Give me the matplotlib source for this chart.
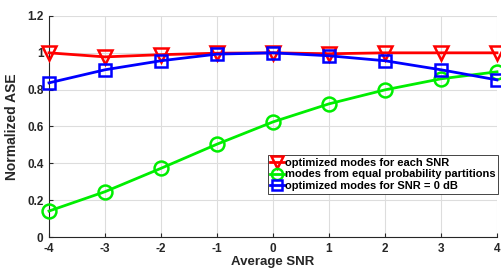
import matplotlib
matplotlib.use("Agg")
import matplotlib.pyplot as plt

plt.rcParams['font.family'] = ['Liberation Sans', 'DejaVu Sans']
plt.rcParams['font.weight'] = 'bold'
plt.rcParams['axes.unicode_minus'] = False

snr = [-4, -3, -2, -1, 0, 1, 2, 3, 4]
ase_each_snr = [1.0, 0.978, 0.99, 0.998, 1.0, 0.995, 1.0, 1.0, 1.0]
ase_equal_prob = [0.141, 0.246, 0.373, 0.504, 0.625, 0.723, 0.799, 0.859, 0.897]
ase_snr0 = [0.837, 0.908, 0.957, 0.993, 1.0, 0.984, 0.957, 0.908, 0.853]

labels = ['optimized modes for each SNR',
          'modes from equal probability partitions',
          'optimized modes for SNR = 0 dB']

fig = plt.figure(figsize=(5.02, 2.69), dpi=100)
ax = fig.add_axes([49/502, 32/269, 448/502, 221/269])

ax.plot(snr, ase_each_snr, color='#ff0000', lw=2, marker='v', ms=10,
        mfc='none', mew=1.8, label=labels[0], clip_on=False, zorder=3)
ax.plot(snr, ase_equal_prob, color='#00ee00', lw=2, marker='o', ms=10,
        mfc='none', mew=1.8, label=labels[1], clip_on=False, zorder=3)
ax.plot(snr, ase_snr0, color='#0000ff', lw=2, marker='s', ms=8.5,
        mfc='none', mew=1.8, label=labels[2], clip_on=False, zorder=4)

ax.set_xlim(-4, 4)
ax.set_ylim(0, 1.2)
ax.set_xticks(snr)
ax.set_yticks([0, 0.2, 0.4, 0.6, 0.8, 1.0, 1.2])
ax.set_yticklabels(['0', '0.2', '0.4', '0.6', '0.8', '1', '1.2'])
ax.grid(True, color='#dddddd', lw=0.8)
ax.set_axisbelow(True)
ax.tick_params(direction='in', length=3, labelsize=8.5, colors='#262626', pad=4)
for s in ['top', 'right']:
    ax.spines[s].set_visible(False)
for s in ['left', 'bottom']:
    ax.spines[s].set_color('#262626')
    ax.spines[s].set_linewidth(0.8)

ax.set_xlabel('Average SNR', fontsize=9.5, fontweight='bold', color='#262626', labelpad=1)
ax.set_ylabel('Normalized ASE', fontsize=10, fontweight='bold', color='#262626', labelpad=6)

leg = ax.legend(loc='upper right', bbox_to_anchor=(1.003, 0.371), fontsize=8,
                handlelength=1.2, handletextpad=0.1, borderpad=0.25,
                labelspacing=0.15, fancybox=False, framealpha=1,
                edgecolor='#262626', borderaxespad=0.0, markerscale=0.8)
leg.get_frame().set_linewidth(0.6)

fig.savefig('out.png', dpi=100)
